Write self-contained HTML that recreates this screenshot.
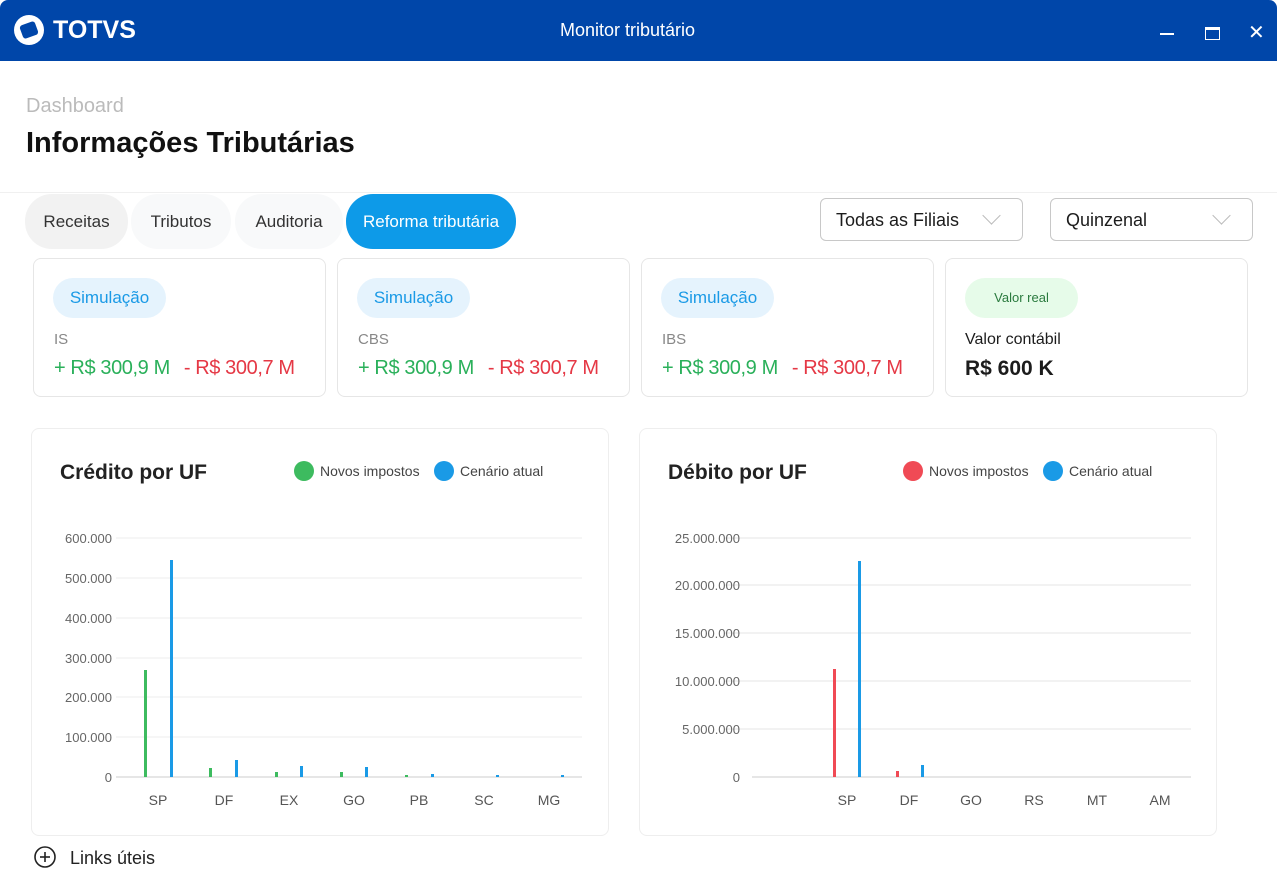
<!DOCTYPE html>
<html><head><meta charset="utf-8"><style>
*{box-sizing:border-box;margin:0;padding:0}
body{width:1277px;height:876px;overflow:hidden;background:#fff;font-family:"Liberation Sans",sans-serif;position:relative;color:#1c1c1c}
.a{position:absolute}
.hdr{left:0;top:0;width:1277px;height:61px;background:#0046a9;border-radius:8px 8px 0 0}
.tab{top:194px;height:55px;border-radius:27px;font-size:17px;line-height:55px;text-align:center;color:#333}
.sel{top:198px;height:43px;border:1px solid #c8c8c8;border-radius:6px;font-size:18px;line-height:42px;padding-left:15px}
.sel:after{content:"";position:absolute;right:24px;top:10px;width:12px;height:12px;border-right:1.5px solid #bbb;border-bottom:1.5px solid #bbb;transform:rotate(45deg)}
.card{top:258px;width:293px;height:139px;border:1px solid #e6e6e6;border-radius:8px}
.pill{left:19px;top:19px;width:113px;height:40px;border-radius:20px;background:#e5f3fd;color:#1a9ae6;font-size:17px;line-height:40px;text-align:center}
.lbl{left:20px;top:72px;font-size:15px;color:#888}
.val{left:20px;top:98px;font-size:20px;white-space:nowrap;letter-spacing:-0.4px}
.g{color:#2ab05a}.r{color:#e53845;margin-left:14px}
.panel{top:428px;width:578px;height:408px;border:1px solid #eee;border-radius:8px}
</style></head><body>
<div class="a hdr"></div>
<svg class="a" style="left:12px;top:13px" width="34" height="34" viewBox="0 0 34 34"><circle cx="17" cy="17" r="15" fill="#fff"/><rect x="9" y="10" width="16" height="14" rx="3" fill="#0046a9" transform="rotate(-20 17 17)"/></svg>
<div class="a" style="left:53px;top:16px;color:#fff;font-size:25px;font-weight:bold;letter-spacing:0px">TOTVS</div>
<div class="a" style="left:560px;top:20px;color:#fff;font-size:18px">Monitor tributário</div>
<div class="a" style="left:1160px;top:33px;width:14px;height:2px;background:#fff"></div>
<div class="a" style="left:1205px;top:27px;width:15px;height:13px;border:1.5px solid #fff;border-top-width:3px"></div>
<div class="a" style="left:1248px;top:20px;color:#fff;font-size:20px">✕</div>
<div class="a" style="left:26px;top:95px;font-size:20px;color:#bbb">Dashboard</div>
<div class="a" style="left:26px;top:127px;font-size:29px;font-weight:bold;color:#111">Informações Tributárias</div>
<div class="a" style="left:0;top:192px;width:1277px;height:1px;background:#f0f0f0"></div>
<div class="a tab" style="left:25px;width:103px;background:#f2f2f2">Receitas</div>
<div class="a tab" style="left:131px;width:100px;background:#f8f9fa">Tributos</div>
<div class="a tab" style="left:235px;width:108px;background:#f8f9fa">Auditoria</div>
<div class="a tab" style="left:346px;width:170px;background:#0d9ae8;color:#fff">Reforma tributária</div>
<div class="a sel" style="left:820px;width:203px">Todas as Filiais</div>
<div class="a sel" style="left:1050px;width:203px">Quinzenal</div>
<div class="a card" style="left:33px"><div class="a pill">Simulação</div><div class="a lbl">IS</div><div class="a val"><span class="g">+ R$ 300,9 M</span><span class="r">- R$ 300,7 M</span></div></div>
<div class="a card" style="left:337px"><div class="a pill">Simulação</div><div class="a lbl">CBS</div><div class="a val"><span class="g">+ R$ 300,9 M</span><span class="r">- R$ 300,7 M</span></div></div>
<div class="a card" style="left:641px"><div class="a pill">Simulação</div><div class="a lbl">IBS</div><div class="a val"><span class="g">+ R$ 300,9 M</span><span class="r">- R$ 300,7 M</span></div></div>
<div class="a card" style="left:945px;width:303px"><div class="a pill" style="background:#e6fbe9;color:#2a7a3e;font-size:13px">Valor real</div><div class="a" style="left:19px;top:72px;font-size:16px">Valor contábil</div><div class="a" style="left:19px;top:98px;font-size:21px;font-weight:bold">R$ 600 K</div></div>
<div class="a panel" style="left:31px"></div>
<div class="a panel" style="left:639px"></div>
<svg class="a" style="left:0;top:0" width="1277" height="876" font-family="Liberation Sans, sans-serif">
<g font-size="13" fill="#666" text-anchor="end">
<g stroke="#ececec"><line x1="116" x2="582" y1="538" y2="538"/><line x1="116" x2="582" y1="578" y2="578"/><line x1="116" x2="582" y1="618" y2="618"/><line x1="116" x2="582" y1="658" y2="658"/><line x1="116" x2="582" y1="697" y2="697"/><line x1="116" x2="582" y1="737" y2="737"/></g>
<line x1="116" x2="582" y1="777" y2="777" stroke="#ccc"/>
<text x="112" y="543">600.000</text><text x="112" y="583">500.000</text><text x="112" y="623">400.000</text><text x="112" y="663">300.000</text><text x="112" y="702">200.000</text><text x="112" y="742">100.000</text><text x="112" y="782">0</text>
<g stroke="#e5e5e5"><line x1="724" x2="1191" y1="538" y2="538"/><line x1="724" x2="1191" y1="585" y2="585"/><line x1="724" x2="1191" y1="633" y2="633"/><line x1="724" x2="1191" y1="681" y2="681"/><line x1="724" x2="1191" y1="729" y2="729"/></g>
<line x1="752" x2="1191" y1="777" y2="777" stroke="#ccc"/>
<text x="740" y="543">25.000.000</text><text x="740" y="590">20.000.000</text><text x="740" y="638">15.000.000</text><text x="740" y="686">10.000.000</text><text x="740" y="734">5.000.000</text><text x="740" y="782">0</text>
</g>
<g font-size="14" fill="#555" text-anchor="middle">
<text x="158" y="805">SP</text><text x="224" y="805">DF</text><text x="289" y="805">EX</text><text x="354" y="805">GO</text><text x="419" y="805">PB</text><text x="484" y="805">SC</text><text x="549" y="805">MG</text>
<text x="847" y="805">SP</text><text x="909" y="805">DF</text><text x="971" y="805">GO</text><text x="1034" y="805">RS</text><text x="1097" y="805">MT</text><text x="1160" y="805">AM</text>
</g>
<g fill="#3dbb5f"><rect x="144" y="670" width="3" height="107"/><rect x="209" y="768" width="3" height="9"/><rect x="275" y="772" width="3" height="5"/><rect x="340" y="772" width="3" height="5"/><rect x="405" y="775" width="3" height="2"/></g>
<g fill="#1a9ae6"><rect x="170" y="560" width="3" height="217"/><rect x="235" y="760" width="3" height="17"/><rect x="300" y="766" width="3" height="11"/><rect x="365" y="767" width="3" height="10"/><rect x="431" y="774" width="3" height="3"/><rect x="496" y="775" width="3" height="2"/><rect x="561" y="775" width="3" height="2"/>
<rect x="858" y="561" width="3" height="216"/><rect x="921" y="765" width="3" height="12"/></g>
<g fill="#f04a55"><rect x="833" y="669" width="3" height="108"/><rect x="896" y="771" width="3" height="6"/></g>
<text x="60" y="479" font-size="21" font-weight="bold" fill="#222">Crédito por UF</text>
<circle cx="304" cy="471" r="10" fill="#3dbb5f"/><text x="320" y="476" font-size="14" fill="#444">Novos impostos</text>
<circle cx="444" cy="471" r="10" fill="#1a9ae6"/><text x="460" y="476" font-size="14" fill="#444">Cenário atual</text>
<text x="668" y="479" font-size="21" font-weight="bold" fill="#222">Débito por UF</text>
<circle cx="913" cy="471" r="10" fill="#f04a55"/><text x="929" y="476" font-size="14" fill="#444">Novos impostos</text>
<circle cx="1053" cy="471" r="10" fill="#1a9ae6"/><text x="1069" y="476" font-size="14" fill="#444">Cenário atual</text>
<circle cx="45" cy="857" r="10" fill="none" stroke="#222" stroke-width="1.6"/><line x1="40" x2="50" y1="857" y2="857" stroke="#222" stroke-width="1.6"/><line x1="45" x2="45" y1="852" y2="862" stroke="#222" stroke-width="1.6"/>
<text x="70" y="864" font-size="18" fill="#222">Links úteis</text>
</svg>
</body></html>
